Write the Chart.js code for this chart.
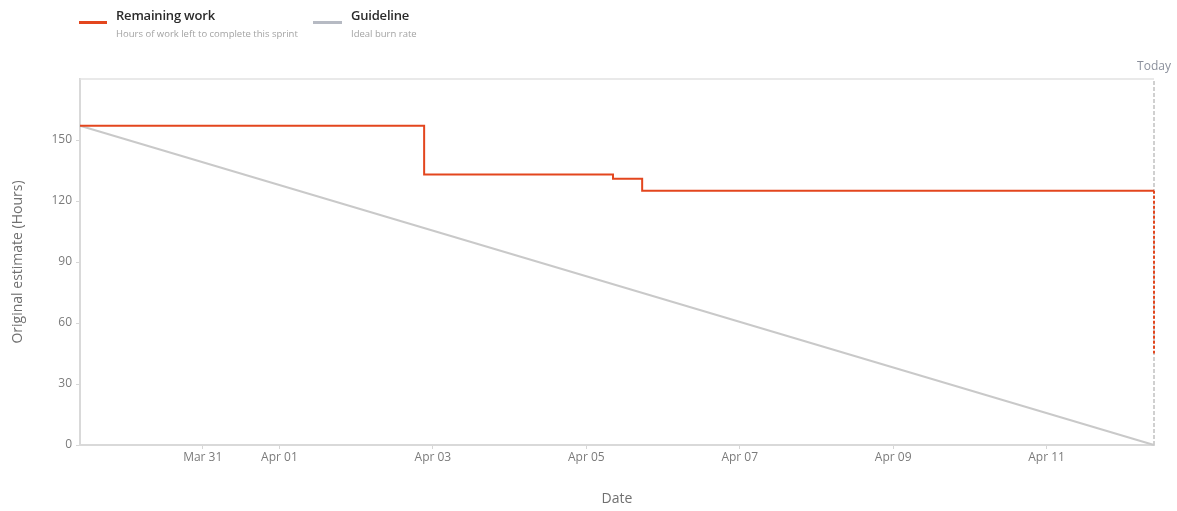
<!DOCTYPE html>
<html>
<head>
<meta charset="utf-8">
<script src="https://cdn.jsdelivr.net/npm/chart.js@4.4.1/dist/chart.umd.min.js"></script>
<style>
  html, body { margin: 0; padding: 0; background: #ffffff; }
  #wrap { position: relative; width: 1177px; height: 511px; overflow: hidden; font-family: "Open Sans", "Noto Sans", sans-serif; }
  #c { position: absolute; left: 0; top: 0; }
  .sw { position: absolute; height: 3px; top: 21px; }
  .lt { position: absolute; font-size: 13px; font-weight: 600; color: #2b2b2b; top: 6px; line-height: 18px; white-space: nowrap; letter-spacing: -0.2px; }
  .ls { position: absolute; font-size: 9.5px; color: #a3a3a3; top: 27px; line-height: 14px; white-space: nowrap; }
</style>
</head>
<body>
<div id="wrap">
  <canvas id="c" width="1177" height="511"></canvas>
  <div class="sw" style="left:79px;width:28px;background:#e3461e;"></div>
  <div class="lt" style="left:116px;">Remaining work</div>
  <div class="ls" style="left:116px;">Hours of work left to complete this sprint</div>
  <div class="sw" style="left:313px;width:29px;background:#b6bac3;"></div>
  <div class="lt" style="left:351px;">Guideline</div>
  <div class="ls" style="left:351px;">Ideal burn rate</div>
</div>
<script>
// x values are days relative to Apr 01 00:00
const sprintStart = -2.6;
const sprintEnd = 11.4;
const todayX = 11.4;

const tickDays   = [-1, 0, 2, 4, 6, 8, 10];
const tickLabels = ['Mar 31', 'Apr 01', 'Apr 03', 'Apr 05', 'Apr 07', 'Apr 09', 'Apr 11'];

// Remaining work: change times (days) and values (hours)
const remainingDays   = [-2.6, 1.886, 4.348, 4.728, 11.4];
const remainingValues = [157, 133, 131, 125, 125];
const todayDropValue  = 45;

const guidelineDays   = [sprintStart, sprintEnd];
const guidelineValues = [157, 0];

const yTicks = [0, 30, 60, 90, 120, 150];
const yMax = 180;

const red = '#e3461e';
const gray = '#c9c9c9';

const toPts = (xs, ys) => xs.map((x, i) => ({ x: x, y: ys[i] }));

const frame = {
  id: 'frame',
  beforeDatasetsDraw(chart) {
    const { ctx, chartArea: a } = chart;
    ctx.save();
    ctx.strokeStyle = '#e2e2e2';
    ctx.lineWidth = 1.5;
    ctx.beginPath();
    ctx.moveTo(a.left, a.top);
    ctx.lineTo(a.right, a.top);
    ctx.stroke();
    ctx.restore();
  },
  afterDraw(chart) {
    const { ctx, chartArea: a, scales } = chart;
    ctx.save();
    ctx.fillStyle = '#8a8f9b';
    ctx.font = '12px "Open Sans", "Noto Sans", sans-serif';
    ctx.textAlign = 'center';
    ctx.textBaseline = 'middle';
    ctx.fillText('Today', scales.x.getPixelForValue(todayX), a.top - 12);
    ctx.restore();
  }
};

new Chart(document.getElementById('c'), {
  type: 'scatter',
  data: {
    datasets: [
      {
        label: 'Remaining work',
        data: toPts(remainingDays, remainingValues),
        showLine: true, stepped: true, clip: false,
        borderColor: red, borderWidth: 2, pointRadius: 0
      },
      {
        label: 'Remaining today',
        data: toPts([todayX, todayX], [remainingValues[remainingValues.length - 1], todayDropValue]),
        showLine: true, clip: false,
        borderColor: red, borderWidth: 2, borderDash: [3, 2], pointRadius: 0
      },
      {
        label: 'Guideline',
        data: toPts(guidelineDays, guidelineValues),
        showLine: true, clip: false,
        borderColor: gray, borderWidth: 2, pointRadius: 0
      },
      {
        label: 'Today',
        data: toPts([todayX, todayX], [0, yMax]),
        showLine: true, clip: false,
        borderColor: '#d0d0d0', borderWidth: 2, borderDash: [4, 2], pointRadius: 0
      }
    ]
  },
  options: {
    responsive: false,
    animation: false,
    events: [],
    layout: { padding: { top: 79, right: 23, left: 0, bottom: 0 } },
    plugins: { legend: { display: false }, tooltip: { enabled: false } },
    scales: {
      x: {
        type: 'linear',
        min: sprintStart, max: sprintEnd,
        afterBuildTicks: (s) => { s.ticks = tickDays.map(v => ({ value: v })); },
        afterFit: (s) => { s.height = 66; },
        grid: { display: true, drawOnChartArea: false, drawTicks: true, tickLength: 4, color: '#d6d6d6' },
        border: { display: true, color: '#d9d9d9', width: 2 },
        ticks: {
          autoSkip: false, maxRotation: 0, padding: 1,
          color: '#7b7b7b', font: { size: 12, family: '"Open Sans", "Noto Sans", sans-serif' },
          callback: (v) => { const i = tickDays.indexOf(v); return i >= 0 ? tickLabels[i] : ''; }
        },
        title: {
          display: true, text: 'Date', color: '#707070',
          font: { size: 14, family: '"Open Sans", "Noto Sans", sans-serif' },
          padding: { top: 0, bottom: 4 }
        }
      },
      y: {
        min: 0, max: yMax,
        afterBuildTicks: (s) => { s.ticks = yTicks.map(v => ({ value: v })); },
        afterFit: (s) => { s.width = 80; },
        grid: { display: true, drawOnChartArea: false, drawTicks: true, tickLength: 4, color: '#d6d6d6' },
        border: { display: true, color: '#d9d9d9', width: 2 },
        ticks: {
          padding: 4,
          color: '#7b7b7b', font: { size: 12, family: '"Open Sans", "Noto Sans", sans-serif' }
        },
        title: {
          display: true, text: 'Original estimate (Hours)', color: '#707070',
          font: { size: 14, family: '"Open Sans", "Noto Sans", sans-serif' },
          padding: { top: 10, bottom: 0 }
        }
      }
    }
  },
  plugins: [frame]
});
</script>
</body>
</html>
